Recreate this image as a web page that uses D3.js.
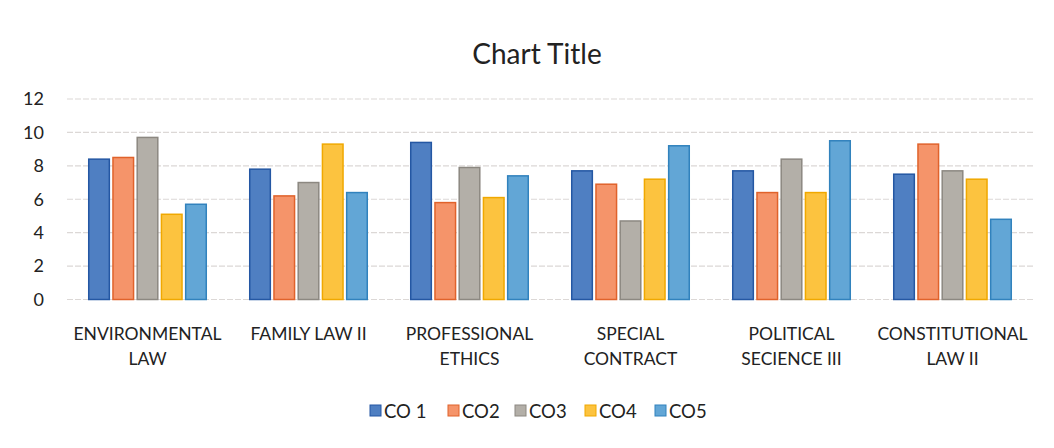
<!DOCTYPE html>
<html>
<head>
<meta charset="utf-8">
<script src="https://cdn.jsdelivr.net/npm/d3@7"></script>
<style>
  body { margin: 0; background: #fff; }
  text { font-family: Lato, "Open Sans", sans-serif; fill: #222; }
</style>
</head>
<body>
<div id="myChart"></div>
<script>
// data
let categories = [["ENVIRONMENTAL", "LAW"], ["FAMILY LAW II"], ["PROFESSIONAL", "ETHICS"],
  ["SPECIAL", "CONTRACT"], ["POLITICAL", "SECIENCE III"], ["CONSTITUTIONAL", "LAW II"]];
let seriesNames = ["CO 1", "CO2", "CO3", "CO4", "CO5"];
let co1 = [8.4, 7.8, 9.4, 7.7, 7.7, 7.5];
let co2 = [8.5, 6.2, 5.8, 6.9, 6.4, 9.3];
let co3 = [9.7, 7.0, 7.9, 4.7, 8.4, 7.7];
let co4 = [5.1, 9.3, 6.1, 7.2, 6.4, 7.2];
let co5 = [5.7, 6.4, 7.4, 9.2, 9.5, 4.8];
let yTicks = [0, 2, 4, 6, 8, 10, 12];

let fills = ["#4f7fc2", "#f5946a", "#b3afa8", "#fcc33f", "#62a6d6"];
let strokes = ["#2457a3", "#e0622b", "#8c8881", "#f0a800", "#3182bd"];

var width = 1054, height = 448;
var margin = { top: 99, right: 21, bottom: 148, left: 67 };

var svg = d3.select("#myChart")
  .append("svg")
  .attr("width", width)
  .attr("height", height);

svg.append("text")
  .attr("x", 537)
  .attr("y", 64)
  .attr("text-anchor", "middle")
  .style("font-size", "28px")
  .text("Chart Title");

var allSeries = [co1, co2, co3, co4, co5];
let finalData = [];
categories.forEach((c, i) => {
  allSeries.forEach((s, j) => {
    finalData.push({ cat: i, series: j, val: s[i] });
  });
});

var x0 = d3.scaleBand()
  .domain(d3.range(categories.length))
  .range([margin.left, width - margin.right])
  .paddingInner(0.27)
  .paddingOuter(0.135);

var x1 = d3.scaleBand()
  .domain(d3.range(seriesNames.length))
  .range([0, x0.bandwidth()])
  .paddingInner(0.15);

var y = d3.scaleLinear()
  .domain([0, 12])
  .range([height - margin.bottom - 0.5, margin.top]);

// gridlines
svg.append("g")
  .selectAll("line")
  .data(yTicks)
  .enter()
  .append("line")
  .attr("x1", margin.left)
  .attr("x2", width - margin.right)
  .attr("y1", d => y(d))
  .attr("y2", d => y(d))
  .attr("stroke", "#dcd8d6")
  .attr("stroke-width", 1.2)
  .attr("stroke-dasharray", "6,2");

// y axis labels
var yAxis = svg.append("g")
  .attr("transform", "translate(" + (margin.left - 20) + ",0)")
  .call(d3.axisLeft(y).tickValues(yTicks).tickSize(0));
yAxis.select(".domain").remove();
yAxis.selectAll("text")
  .style("font-size", "18px")
  .style("font-family", "Lato, sans-serif")
  .attr("fill", "#222");

// bars
svg.append("g")
  .selectAll(".boxes")
  .data(finalData)
  .enter()
  .append("rect")
  .attr("class", "boxes")
  .attr("x", d => x0(d.cat) + x1(d.series))
  .attr("y", d => y(d.val))
  .attr("width", x1.bandwidth())
  .attr("height", d => y(0) - y(d.val))
  .style("fill", d => fills[d.series])
  .style("stroke", d => strokes[d.series])
  .style("stroke-width", 1.5);

// category labels
var labels = svg.append("g")
  .selectAll("text")
  .data(categories)
  .enter()
  .append("text")
  .attr("text-anchor", "middle")
  .attr("x", (d, i) => x0(i) + x0.bandwidth() / 2)
  .attr("y", 340)
  .style("font-size", "17.5px");
labels.selectAll("tspan")
  .data(d => d)
  .enter()
  .append("tspan")
  .attr("x", function() { return d3.select(this.parentNode).attr("x"); })
  .attr("dy", (d, i) => i == 0 ? 0 : 25)
  .text(d => d);

// legend
var legendX = [370, 448, 515, 585, 655];
var key = svg.append("g");
seriesNames.forEach((s, i) => {
  key.append("rect")
    .attr("x", legendX[i])
    .attr("y", 405)
    .attr("width", 11)
    .attr("height", 11)
    .style("fill", fills[i])
    .style("stroke", strokes[i]);
  key.append("text")
    .attr("x", legendX[i] + 14)
    .attr("y", 418)
    .style("font-size", "18.5px")
    .text(s);
});
</script>
</body>
</html>
